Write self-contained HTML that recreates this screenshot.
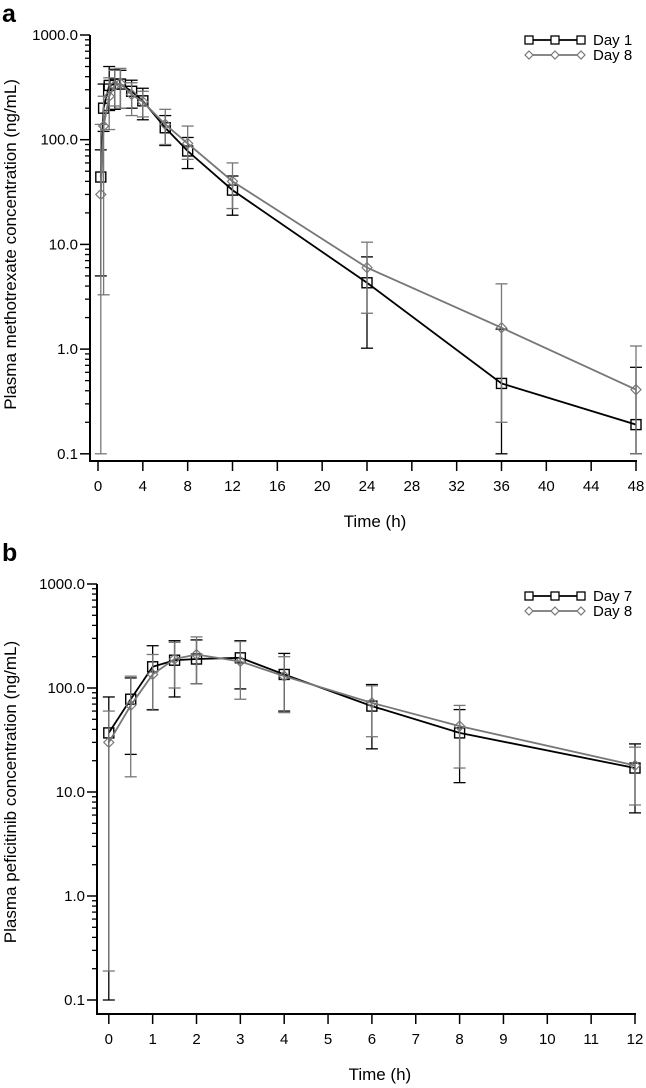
<!DOCTYPE html>
<html><head><meta charset="utf-8"><style>
body{margin:0;background:#fff}
svg{display:block;font-family:"Liberation Sans",Arial,sans-serif}
</style></head><body>
<svg id="chart" width="646" height="1088" viewBox="0 0 646 1088"></svg>
<script>
// Panel a data (methotrexate)
const aTimes=[0.25,0.5,1,1.5,2,3,4,6,8,12,24,36,48];
const aDay1=[44,200,330,340,340,290,235,130,78,33,4.3,0.47,0.19];
const aDay1Hi=[80,340,500,470,460,370,310,170,105,45,7.6,1.55,0.67];
const aDay1Lo=[5,120,190,195,200,200,155,88,53,19,1.02,0.1,0.1];
const aDay8=[30,135,260,330,345,270,230,140,92,40,6,1.6,0.41];
const aDay8Hi=[140,260,390,460,480,350,290,195,135,60,10.5,4.2,1.07];
const aDay8Lo=[0.1,3.3,125,210,200,170,165,90,65,22,2.2,0.2,0.1];
const aXTicks=[0,4,8,12,16,20,24,28,32,36,40,44,48];
// Panel b data (peficitinib)
const bTimes=[0,0.5,1,1.5,2,3,4,6,8,12];
const bDay7=[37,78,160,185,190,195,135,67,37,17];
const bDay7Hi=[82,125,255,285,290,285,215,108,62,29];
const bDay7Lo=[0.1,23,62,82,110,98,60,26,12.3,6.3];
const bDay8=[30,68,135,190,210,180,130,72,43,18];
const bDay8Hi=[60,130,210,275,310,280,200,105,68,27];
const bDay8Lo=[0.19,14,61,100,110,78,58,34,17,7.5];
const bXTicks=[0,1,2,3,4,5,6,7,8,9,10,11,12];
const yTicks=[0.1,1,10,100,1000];
const yLabels=["0.1","1.0","10.0","100.0","1000.0"];

const NS="http://www.w3.org/2000/svg";
const svg=document.getElementById('chart');
function mk(tag,attrs,parent,text){const e=document.createElementNS(NS,tag);for(const k in attrs)e.setAttribute(k,attrs[k]);if(text!==undefined)e.textContent=text;(parent||svg).appendChild(e);return e;}

function panel(p){
  const g=mk('g',{});
  
  
  const x=t=>p.x0+(t-p.tmin)/(p.tmax-p.tmin)*(p.x1-p.x0);
  const y=v=>p.y1000+(3-Math.log10(v))*p.dec;
  const L=mk('text',{x:p.letterX,y:p.letterY,'font-size':25,'font-weight':'bold'},g,p.letter);
  
  
  const yb=y(0.1);
  const ya=mk('line',{x1:p.ax,y1:y(1000),x2:p.ax,y2:p.axY,stroke:'#000','stroke-width':2},g);
  
  
  const xa=mk('line',{x1:p.ax-1,y1:p.axY,x2:x(p.tmax)+1,y2:p.axY,stroke:'#000','stroke-width':2},g);
  
  
  yTicks.forEach((v,i)=>{
    const t=mk('line',{x1:p.ax-10,y1:y(v),x2:p.ax,y2:y(v),stroke:'#000','stroke-width':1.5},g);
    
    
    const l=mk('text',{x:p.ax-12,y:y(v)+5,'font-size':15,'text-anchor':'end'},g,yLabels[i]);
    
    
    if(i<yTicks.length-1){for(let m=2;m<=9;m++){const mm=mk('line',{x1:p.ax-5,y1:y(v*m),x2:p.ax,y2:y(v*m),stroke:'#000','stroke-width':1.3},g);
      
      }}
  });
  p.xticks.forEach(t=>{
    const tk=mk('line',{x1:x(t),y1:p.axY,x2:x(t),y2:p.axY+10,stroke:'#000','stroke-width':1.5},g);
    
    
    const l=mk('text',{x:x(t),y:p.axY+30,'font-size':15,'text-anchor':'middle'},g,String(t));
    
    
  });
  const xt=mk('text',{x:(x(p.tmin)+x(p.tmax))/2+8,y:p.axY+66,'font-size':17,'text-anchor':'middle'},g,'Time (h)');
  
  
  const cy=(y(1000)+yb)/2;
  const yt=mk('text',{x:0,y:0,'font-size':17,'text-anchor':'middle',transform:`translate(${p.ylabX},${cy}) rotate(-90)`},g,p.ylab);
  
  
  p.series.forEach((s,si)=>{
    const sg=mk('g',{},g);
    
    
    s.t.forEach((t,i)=>{
      const cx=x(t);
      const e=mk('line',{x1:cx,y1:y(s.hi[i]),x2:cx,y2:y(s.lo[i]),stroke:s.c,'stroke-width':1.3},sg);
      
      
      [s.hi[i],s.lo[i]].forEach(v=>{const c=mk('line',{x1:cx-6,y1:y(v),x2:cx+6,y2:y(v),stroke:s.c,'stroke-width':1.3},sg);
        
        });
    });
    const pl=mk('polyline',{points:s.t.map((t,i)=>x(t)+','+y(s.v[i])).join(' '),fill:'none',stroke:s.c,'stroke-width':s.w},sg);
    
    
    s.t.forEach((t,i)=>{
      const cx=x(t),cyy=y(s.v[i]);
      let m;
      if(s.m==='sq')m=mk('rect',{x:cx-5,y:cyy-5,width:10,height:10,fill:'none',stroke:s.c,'stroke-width':1.4},sg);
      else m=mk('polygon',{points:`${cx},${cyy-5} ${cx+5},${cyy} ${cx},${cyy+5} ${cx-5},${cyy}`,fill:'none',stroke:s.c,'stroke-width':1.2},sg);
      
      
    });
    const ly=p.legY+si*15;
    const lg=mk('g',{},g);
    
    
    mk('line',{x1:525,y1:ly,x2:585,y2:ly,stroke:s.c,'stroke-width':s.w},lg);
    [529,555,581].forEach(lx=>{
      if(s.m==='sq')mk('rect',{x:lx-4,y:ly-4,width:8,height:8,fill:'#fff',stroke:s.c,'stroke-width':1.3},lg);
      else mk('polygon',{points:`${lx},${ly-4} ${lx+4},${ly} ${lx},${ly+4} ${lx-4},${ly}`,fill:'#fff',stroke:s.c,'stroke-width':1.2},lg);
    });
    mk('text',{x:593,y:ly+5,'font-size':15},lg,s.label);
  });
}
panel({name:'panel-a',letter:'a',letterX:2,letterY:22,ax:90,axY:461,x0:98,x1:636,tmin:0,tmax:48,y1000:35,dec:104.7,xticks:aXTicks,ylabX:16,
  ylab:'Plasma methotrexate concentration (ng/mL)',legY:40,
  series:[{label:'Day 1',t:aTimes,v:aDay1,hi:aDay1Hi,lo:aDay1Lo,c:'#000',w:1.8,m:'sq'},
          {label:'Day 8',t:aTimes,v:aDay8,hi:aDay8Hi,lo:aDay8Lo,c:'#777',w:1.8,m:'di'}]});
panel({name:'panel-b',letter:'b',letterX:2,letterY:561,ax:97,axY:1014,x0:108.8,x1:635,tmin:0,tmax:12,y1000:584,dec:104,xticks:bXTicks,ylabX:16,
  ylab:'Plasma peficitinib concentration (ng/mL)',legY:596,
  series:[{label:'Day 7',t:bTimes,v:bDay7,hi:bDay7Hi,lo:bDay7Lo,c:'#000',w:1.8,m:'sq'},
          {label:'Day 8',t:bTimes,v:bDay8,hi:bDay8Hi,lo:bDay8Lo,c:'#777',w:1.8,m:'di'}]});
</script>
</body></html>
